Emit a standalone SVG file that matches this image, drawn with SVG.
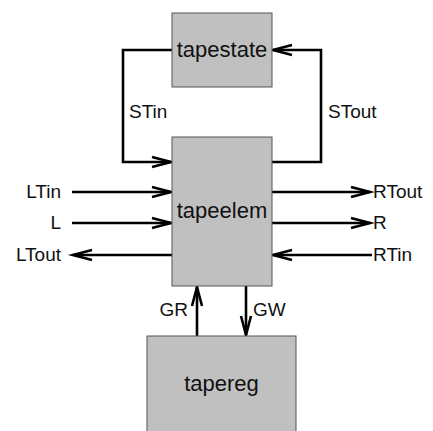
<svg xmlns="http://www.w3.org/2000/svg" width="433" height="431" viewBox="0 0 433 431">
<defs>
<style>
.box{fill:#c0c0c0;stroke:#555;stroke-width:1}
.bl{font-family:"Liberation Sans",Arial,sans-serif;font-size:22px;fill:#111;text-anchor:middle}
.lb{font-family:"Liberation Sans",Arial,sans-serif;font-size:19px;fill:#111}
.c{fill:none;stroke:#000;stroke-width:2.6}
</style>
<marker id="ah" markerUnits="userSpaceOnUse" markerWidth="24" markerHeight="16" viewBox="-21 -8 24 16" refX="0" refY="0" orient="auto" overflow="visible">
<path d="M-19,-5 L0,0 L-19,5" fill="none" stroke="#000" stroke-width="2.6"/>
</marker>
</defs>
<rect width="433" height="431" fill="#fff"/>
<g id="connectors">
<path class="c" d="M172,50 H123 V162 H171" marker-end="url(#ah)"/>
<path class="c" d="M272,162 H321 V50 H273" marker-end="url(#ah)"/>
<path class="c" d="M72,192 H171" marker-end="url(#ah)"/>
<path class="c" d="M72,223 H171" marker-end="url(#ah)"/>
<path class="c" d="M172,255 H73" marker-end="url(#ah)"/>
<path class="c" d="M272,192 H370" marker-end="url(#ah)"/>
<path class="c" d="M272,223 H370" marker-end="url(#ah)"/>
<path class="c" d="M372,255 H273" marker-end="url(#ah)"/>
<path class="c" d="M197,336 V287" marker-end="url(#ah)"/>
<path class="c" d="M246,286 V335" marker-end="url(#ah)"/>
<text class="lb" x="129" y="118">STin</text>
<text class="lb" x="328" y="118">STout</text>
<text class="lb" x="61" y="198" text-anchor="end">LTin</text>
<text class="lb" x="61" y="229" text-anchor="end">L</text>
<text class="lb" x="61" y="261" text-anchor="end">LTout</text>
<text class="lb" x="373" y="198">RTout</text>
<text class="lb" x="373" y="229">R</text>
<text class="lb" x="373" y="261">RTin</text>
<text class="lb" x="188" y="316" text-anchor="end">GR</text>
<text class="lb" x="253" y="316">GW</text>
</g>
<g id="tapestate">
<rect class="box" x="172" y="13" width="100" height="74"/>
<text class="bl" x="222" y="57">tapestate</text>
</g>
<g id="tapeelem">
<rect class="box" x="172" y="137" width="100" height="149"/>
<text class="bl" x="222" y="218">tapeelem</text>
</g>
<g id="tapereg">
<rect class="box" x="147" y="336" width="149" height="110"/>
<text class="bl" x="221.5" y="391">tapereg</text>
</g>
</svg>
